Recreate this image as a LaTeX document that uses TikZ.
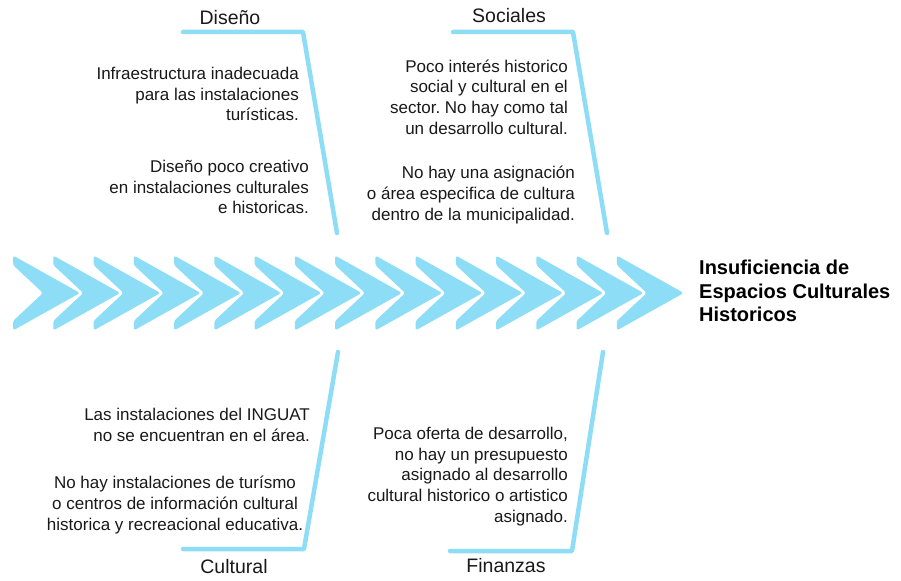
\documentclass[tikz,border=0pt]{standalone}
\usepackage{fontspec}
\setmainfont{Liberation Sans}
\frenchspacing
\definecolor{chev}{RGB}{142,221,247}
\definecolor{txt}{RGB}{25,25,25}
\begin{document}
\begin{tikzpicture}[x=1bp,y=-1bp,
  chevron/.style={fill=chev, rounded corners=2.5bp},
  bone/.style={draw=chev, line width=4.5bp, line cap=round, line join=round},
  cause/.style={font=\fontsize{17bp}{20.7bp}\selectfont, text=txt, align=right, inner sep=0pt, anchor=north east},
  cat/.style={font=\fontsize{19.5bp}{23bp}\selectfont, text=txt, inner sep=0pt, anchor=base},
  effect/.style={font=\fontsize{20bp}{23.5bp}\selectfont\bfseries, text=black, align=left, inner sep=0pt, anchor=north west}]
\useasboundingbox (0,0) rectangle (901,581);
\fill[white] (0,0) rectangle (901,581);
% spine of chevrons
\foreach \i in {0,...,15}{
  \pgfmathsetmacro\xx{13+40.25*\i}
  \fill[chevron] (\xx,255.5) -- (\xx+67,293) -- (\xx,330.5) -- (\xx,321) -- (\xx+30,293) -- (\xx,265) -- cycle;
}
% bones
\coordinate (d1) at (183,32); \coordinate (d2) at (303,32); \coordinate (d3) at (337,233);
\coordinate (s1) at (453,32); \coordinate (s2) at (573,32); \coordinate (s3) at (607,233);
\coordinate (c1) at (338,352); \coordinate (c2) at (304,549); \coordinate (c3) at (183,549);
\coordinate (f1) at (603,352); \coordinate (f2) at (572,551); \coordinate (f3) at (450,551);
\draw[bone] (d1) -- (d2) -- (d3);
\draw[bone] (s1) -- (s2) -- (s3);
\draw[bone] (c1) -- (c2) -- (c3);
\draw[bone] (f1) -- (f2) -- (f3);
% categories
\node[cat] (dis) at (230,25) {Diseño};
\node[cat] (soc) at (509,23) {Sociales};
\node[cat] (cul) at (234,573) {Cultural};
\node[cat] (fin) at (506,572) {Finanzas};
% causes
\node[cause] (dis1) at (299,67) {Infraestructura inadecuada\\para las instalaciones\\turísticas.};
\node[cause] (dis2) at (309,160) {Diseño poco creativo\\en instalaciones culturales\\e historicas.};
\node[cause] (soc1) at (568,59.5) {Poco interés historico\\social y cultural en el\\sector. No hay como tal\\un desarrollo cultural.};
\node[cause] (soc2) at (575,166) {No hay una asignación\\o área especifica de cultura\\dentro de la municipalidad.};
\node[cause] (cul1) at (310,408) {Las instalaciones del INGUAT\\no se encuentran en el área.};
\node[cause, align=center, anchor=north] (cul2) at (175,476) {No hay instalaciones de turísmo\\o centros de información cultural\\historica y recreacional educativa.};
\node[cause] (fin1) at (568,427) {Poca oferta de desarrollo,\\no hay un presupuesto\\asignado al desarrollo\\cultural historico o artistico\\asignado.};
% effect
\node[effect] (eff) at (699,260) {Insuficiencia de\\Espacios Culturales\\Historicos};
\end{tikzpicture}
\end{document}
